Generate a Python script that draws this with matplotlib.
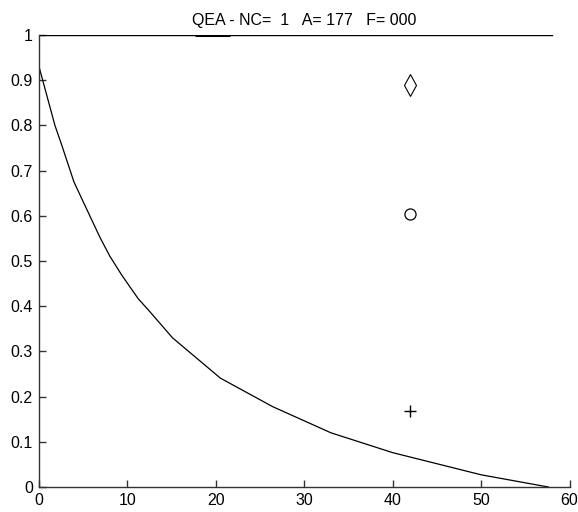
import matplotlib
matplotlib.use("Agg")
import matplotlib.pyplot as plt
from matplotlib.ticker import FuncFormatter

plt.rcParams['font.family'] = ['Liberation Sans', 'DejaVu Sans']

title = "QEA - NC=  1   A= 177   F= 000"
curve_x = [0, 1.8, 2.56, 3.95, 5.0, 6.9, 8.0, 9.35, 11.2, 12.35, 15.1, 20.5, 26.4, 33, 40, 50, 57.6]
curve_y = [0.93, 0.80, 0.757, 0.675, 0.631, 0.552, 0.511, 0.469, 0.417, 0.392, 0.33, 0.241, 0.178, 0.12, 0.076, 0.027, 0.0]
top_x = [0, 58]
top_y = [1, 1]
thick_x = [17.6, 21.6]
thick_y = [1, 1]
marker_x = 42
diamond_y = 0.889
circle_y = 0.604
plus_y = 0.169

fig = plt.figure(figsize=(5.78, 5.12), dpi=100)
ax = fig.add_axes([0.0675, 0.0488, 0.918, 0.8828])

ax.plot(top_x, top_y, color='black', lw=1)
ax.plot(thick_x, thick_y, color='black', lw=2.2, solid_capstyle='butt')
ax.plot(curve_x, curve_y, color='black', lw=0.9)
ax.plot([marker_x], [diamond_y], marker='d', markersize=11, markerfacecolor='none',
        markeredgecolor='black', markeredgewidth=0.8, linestyle='none')
ax.plot([marker_x], [circle_y], marker='o', markersize=8, markerfacecolor='none',
        markeredgecolor='black', markeredgewidth=0.9, linestyle='none')
ax.plot([marker_x], [plus_y], marker='+', markersize=8.5, color='black',
        markeredgewidth=1, linestyle='none')

ax.set_xlim(0, 60)
ax.set_ylim(0, 1)
ax.set_xticks(range(0, 61, 10))
ax.set_yticks([i / 10 for i in range(11)])
ax.yaxis.set_major_formatter(FuncFormatter(lambda v, p: f"{v:g}"))
ax.spines['top'].set_visible(False)
ax.spines['right'].set_visible(False)
for s in ['left', 'bottom']:
    ax.spines[s].set_linewidth(1)
    ax.spines[s].set_color('#333333')
ax.tick_params(direction='in', length=5, width=1, labelsize=11.5, colors='#333333',
               labelcolor='black', pad=4.5)
ax.set_title(title, fontsize=11.5, pad=7)

fig.savefig("out.png", dpi=100)
